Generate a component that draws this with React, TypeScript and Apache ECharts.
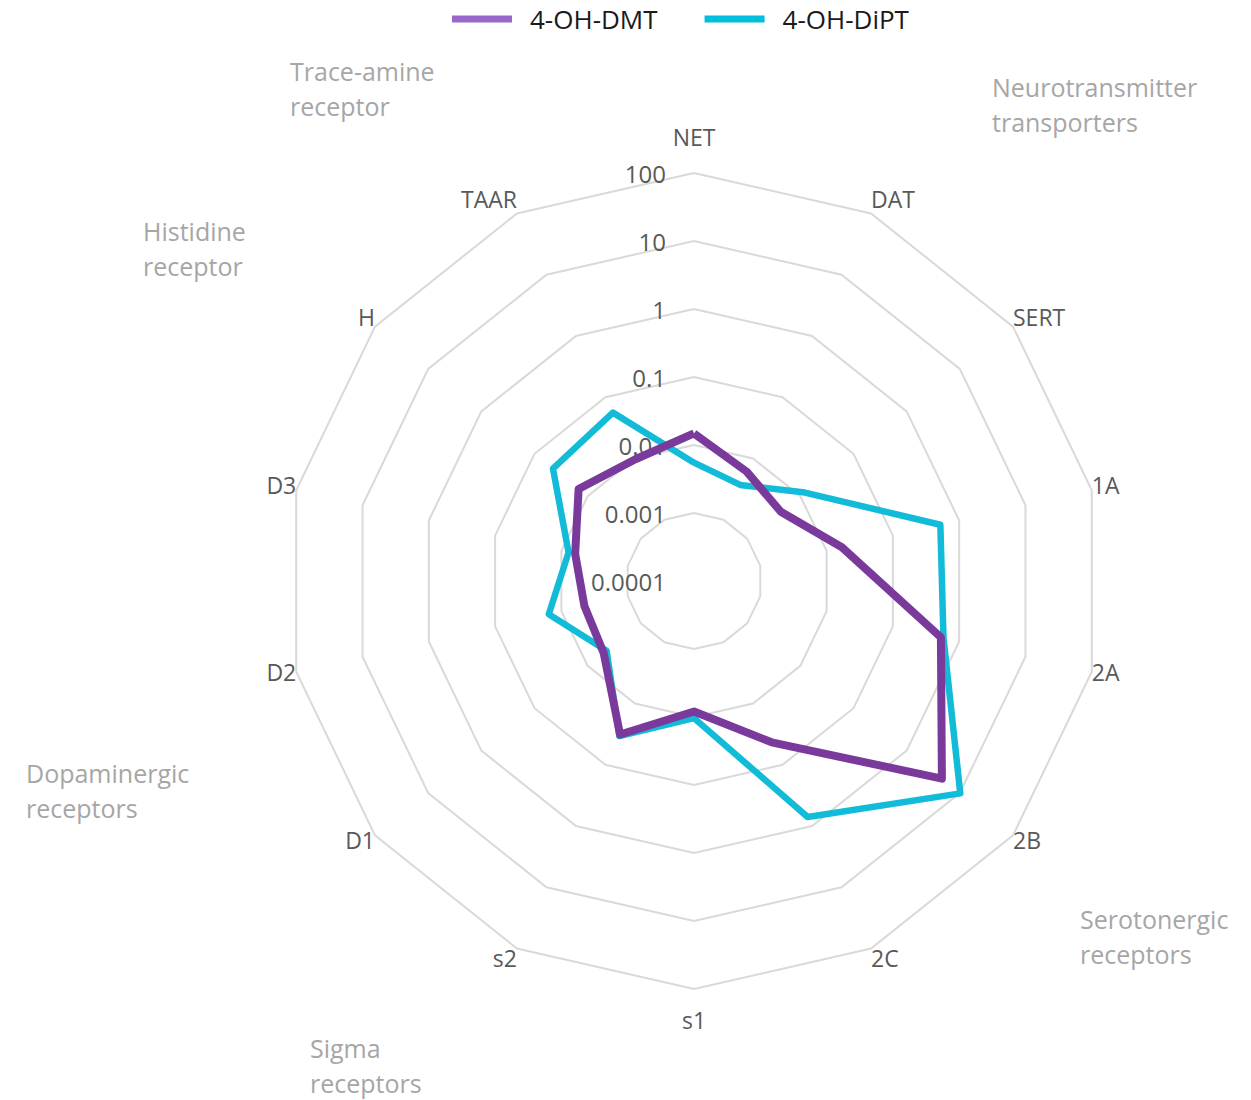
import React, { useEffect, useRef } from "react";
import * as echarts from "echarts";

// Receptor / transporter targets, clockwise from the top
const categories = ["NET", "DAT", "SERT", "1A", "2A", "2B", "2C", "s1", "s2", "D1", "D2", "D3", "H", "TAAR"];

// Binding values per target (log-scaled axis)
const dmtValues = [0.0148, 0.0061, 0.0043, 0.017, 0.53, 4.6, 0.043, 0.0083, 0.032, 0.005, 0.0045, 0.0062, 0.0148, 0.0097];
const diptValues = [0.0055, 0.0037, 0.0122, 0.52, 0.58, 10.2, 0.71, 0.0104, 0.034, 0.0044, 0.0155, 0.0078, 0.045, 0.056];

const seriesNames = ["4-OH-DMT", "4-OH-DiPT"];

// Ring labels from the centre outwards (one per decade)
const tickLabels = ["0.0001", "0.001", "0.01", "0.1", "1", "10", "100"];

// Receptor family captions
const groupLabels = [
  "Trace-amine\nreceptor",
  "Neurotransmitter\ntransporters",
  "Histidine\nreceptor",
  "Dopaminergic\nreceptors",
  "Serotonergic\nreceptors",
  "Sigma\nreceptors",
];

const LOG_MIN = -4;
const LOG_MAX = 2;

const FONT = "'Open Sans', 'Noto Sans', sans-serif";
const DMT_LINE = "#7A3A9C";
const DMT_KEY = "#9966CC";
const DIPT_LINE = "#12BCD9";
const DIPT_KEY = "#00BFDA";

// Caption anchor points (left, top)
const groupPos: [number, number][] = [
  [290, 53],
  [992, 69],
  [143, 213],
  [26, 755],
  [1080, 901],
  [310, 1030],
];

// Extra padding per ring step from the top axis, so names sit clear of the web
const namePad: number[][] = [
  [0, 0, 25, 0],
  [0, 0, 28, 0],
  [0, 0, 20, 0],
  [0, 0, 10, 0],
  [0, 0, 0, 0],
  [10, 0, 0, 0],
  [18, 0, 0, 0],
  [19, 0, 0, 0],
];

// ECharts lays radar axes out counter-clockwise; reverse all but the first
// so the targets run clockwise from the top.
const clockwise = <T,>(arr: T[]): T[] => [arr[0], ...arr.slice(1).reverse()];

export default function App() {
  const ref = useRef<HTMLDivElement>(null);

  useEffect(() => {
    if (!ref.current) return;
    const chart = echarts.init(ref.current, undefined, { renderer: "svg" });

    const rich: Record<string, any> = {};
    namePad.forEach((p, k) => {
      rich["k" + k] = { color: "#595959", fontSize: 23, fontFamily: FONT, padding: p };
    });

    const n = categories.length;
    const axisOrder = clockwise(categories);

    const option: any = {
      animation: false,
      backgroundColor: "#ffffff",
      legend: {
        data: [
          { name: seriesNames[0], itemStyle: { color: DMT_KEY } },
          { name: seriesNames[1], itemStyle: { color: DIPT_KEY } },
        ],
        left: 452,
        top: 6,
        padding: 0,
        icon: "rect",
        itemWidth: 60,
        itemHeight: 7,
        itemGap: 47,
        textStyle: {
          fontSize: 26,
          color: "#1a1a1a",
          fontFamily: FONT,
          padding: [0, 0, 0, 13],
        },
      },
      radar: {
        center: [694, 581],
        radius: 408,
        startAngle: 90,
        splitNumber: 6,
        shape: "polygon",
        nameGap: 0,
        indicator: axisOrder.map((name, i) => {
          const ind: any = { name, min: LOG_MIN, max: LOG_MAX };
          if (i === 0) {
            ind.axisLabel = {
              show: true,
              color: "#595959",
              fontSize: 24,
              fontFamily: FONT,
              margin: 28,
              formatter: (v: number) => tickLabels[Math.round(v - LOG_MIN)] ?? "",
            };
          }
          return ind;
        }),
        axisName: {
          color: "#595959",
          fontSize: 23,
          fontFamily: FONT,
          formatter: (name: string) => {
            const i = categories.indexOf(name);
            const k = Math.min(i, n - i);
            return "{k" + k + "|" + name + "}";
          },
          rich,
        },
        axisLine: { show: false },
        axisTick: { show: false },
        axisLabel: { show: false },
        splitLine: { lineStyle: { color: "#d9d9d9", width: 2 } },
        splitArea: { show: false },
      },
      series: [
        {
          type: "radar",
          symbol: "none",
          data: [
            {
              name: seriesNames[1],
              value: clockwise(diptValues).map((v) => Math.log10(v)),
              lineStyle: { color: DIPT_LINE, width: 6.5 },
              itemStyle: { color: DIPT_LINE },
            },
            {
              name: seriesNames[0],
              value: clockwise(dmtValues).map((v) => Math.log10(v)),
              lineStyle: { color: DMT_LINE, width: 8 },
              itemStyle: { color: DMT_LINE },
            },
          ],
        },
      ],
      graphic: groupLabels.map((text, i) => ({
        type: "text",
        x: groupPos[i][0],
        y: groupPos[i][1],
        silent: true,
        style: {
          text,
          fill: "#a6a6a6",
          fontSize: 25,
          fontFamily: FONT,
          lineHeight: 35,
          align: "left",
          verticalAlign: "top",
        },
      })),
    };

    chart.setOption(option);
    return () => chart.dispose();
  }, []);

  return (
    <div
      ref={ref}
      style={{ position: "absolute", left: 0, top: 0, width: 1251, height: 1100, background: "#fff" }}
    />
  );
}
